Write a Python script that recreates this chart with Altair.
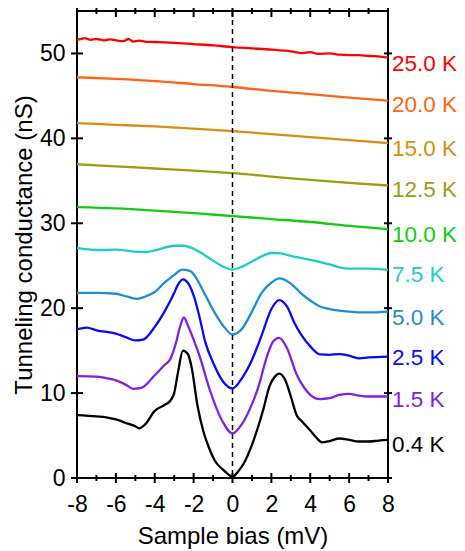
import altair as alt
import pandas as pd

# ---- data ----
temps = ["25.0 K", "20.0 K", "15.0 K", "12.5 K", "10.0 K", "7.5 K", "5.0 K", "2.5 K", "1.5 K", "0.4 K"]
colors = ["#FF0000", "#FF6414", "#D68F12", "#A09C10", "#12CC12", "#1ECCCC", "#1E8ED2", "#0A0AF5", "#8420E0", "#000000"]
label_y = [48.8, 43.9, 38.8, 33.9, 28.6, 23.9, 18.8, 14.1, 9.2, 3.9]

x_250 = [-8, -7.8, -7.6, -7.3, -7, -6.6, -6.3, -6, -5.6, -5.35, -5.1, -4.8, -4.5, -4, -3.5, -3, -2, -1, 0, 1, 2, 3, 3.6, 4, 4.4, 5, 5.5, 6, 6.5, 7, 7.5, 8]
g_250 = [51.6, 51.7, 51.8, 51.6, 51.7, 51.55, 51.65, 51.55, 51.45, 51.7, 51.4, 51.5, 51.4, 51.35, 51.3, 51.25, 51.1, 50.95, 50.75, 50.6, 50.45, 50.25, 50.05, 50.15, 49.95, 50.0, 49.85, 49.8, 49.8, 49.7, 49.65, 49.5]

x_200 = [-8, -6, -4, -2, 0, 2, 4, 6, 8]
g_200 = [47.2, 47.0, 46.75, 46.4, 46.05, 45.6, 45.2, 44.8, 44.45]

x_150 = [-8, -6, -4, -2, 0, 2, 4, 6, 8]
g_150 = [41.8, 41.6, 41.4, 41.15, 40.85, 40.5, 40.15, 39.8, 39.45]

x_125 = [-8, -6, -4, -2, 0, 2, 4, 6, 8]
g_125 = [36.95, 36.7, 36.45, 36.2, 35.9, 35.5, 35.1, 34.75, 34.45]

x_100 = [-8, -6, -4, -2, 0, 2, 4, 6, 8]
g_100 = [31.9, 31.75, 31.5, 31.2, 30.85, 30.5, 30.15, 29.7, 29.3]

x_75 = [-8, -7, -6, -5, -4.5, -4, -3, -2.5, -2, -1.5, -1, -0.5, 0, 0.5, 1, 1.5, 2, 2.5, 3, 4, 5, 5.5, 6, 7, 8]
g_75 = [27.1, 26.85, 26.9, 26.65, 26.6, 26.8, 27.35, 27.35, 27.0, 26.35, 25.6, 24.9, 24.55, 24.9, 25.5, 26.1, 26.5, 26.45, 26.15, 25.7, 25.15, 24.8, 24.65, 24.65, 24.5]

x_50 = [-8, -7, -6, -5.4, -4.9, -4.5, -4, -3.5, -3, -2.6, -2.2, -2, -1.5, -1, -0.5, 0, 0.5, 1, 1.5, 2, 2.4, 3, 3.5, 4, 4.5, 5, 6, 7, 8]
g_50 = [21.8, 21.8, 21.7, 21.35, 21.1, 21.35, 21.9, 23.0, 23.9, 24.55, 24.4, 24.0, 22.0, 19.8, 18.0, 16.9, 17.6, 19.6, 21.8, 23.0, 23.5, 22.9, 21.8, 20.9, 20.2, 19.9, 19.6, 19.5, 19.6]

x_25 = [-8, -7.5, -7, -6, -5.5, -5, -4.6, -4, -3.5, -3, -2.8, -2.55, -2.3, -2, -1.7, -1.4, -1, -0.5, 0, 0.5, 1, 1.5, 2, 2.4, 2.8, 3.2, 3.5, 4, 4.5, 5, 5.5, 6, 6.5, 7, 8]
g_25 = [17.5, 17.7, 17.4, 17.0, 16.6, 16.2, 16.3, 17.8, 19.6, 21.8, 22.8, 23.4, 23.0, 21.5, 19.0, 16.0, 13.6, 11.4, 10.55, 11.8, 13.9, 16.8, 19.9, 20.95, 20.2, 18.2, 17.0, 15.5, 14.55, 14.5, 14.6, 14.4, 14.1, 14.2, 14.3]

x_15 = [-8, -7, -6.5, -6, -5.5, -5.1, -4.7, -4, -3.5, -3.2, -2.9, -2.7, -2.5, -2.3, -2, -1.7, -1.2, -0.5, 0, 0.5, 1, 1.3, 1.8, 2.1, 2.4, 2.8, 3.3, 3.7, 4, 4.5, 5, 5.5, 6, 6.5, 7, 8]
g_15 = [12.0, 11.95, 11.75, 11.5, 11.0, 10.5, 10.6, 12.1, 13.3, 14.0, 16.0, 17.8, 18.9, 18.0, 16.3, 14.4, 10.6, 6.6, 5.25, 6.4, 8.7, 10.5, 14.5, 16.1, 16.5, 15.3, 12.2, 10.6, 9.8, 9.3, 9.4, 9.8, 9.9, 9.7, 9.6, 9.6]

x_04 = [-8, -7, -6.5, -6, -5.5, -5, -4.8, -4.5, -4, -3.5, -3.2, -3.0, -2.8, -2.55, -2.3, -2.1, -1.8, -1.5, -1.2, -0.9, -0.5, -0.2, 0, 0.3, 0.6, 1.0, 1.3, 1.6, 1.9, 2.2, 2.4, 2.7, 3.0, 3.3, 3.6, 4.0, 4.3, 4.6, 5.0, 5.5, 6, 6.5, 7, 7.5, 8]
g_04 = [7.4, 7.25, 7.15, 6.9, 6.5, 6.1, 5.85, 6.3, 7.9, 8.6, 9.1, 10.0, 12.5, 15.0, 14.6, 13.0, 8.5, 5.5, 3.5, 2.0, 1.0, 0.4, 0.15, 0.8, 1.8, 3.9, 5.9, 8.2, 10.8, 12.0, 12.3, 11.6, 9.6, 7.4, 6.6, 5.6, 4.8, 4.2, 4.35, 4.65, 4.5, 4.3, 4.3, 4.4, 4.5]

x_ticks = [-8, -6, -4, -2, 0, 2, 4, 6, 8]
x_minor = [-7, -5, -3, -1, 1, 3, 5, 7]
y_ticks = [0, 10, 20, 30, 40, 50]

series = [(x_250, g_250), (x_200, g_200), (x_150, g_150), (x_125, g_125), (x_100, g_100),
          (x_75, g_75), (x_50, g_50), (x_25, g_25), (x_15, g_15), (x_04, g_04)]

rows = []
for t, (xs, gs) in zip(temps, series):
    for xv, gv in zip(xs, gs):
        rows.append({"bias": xv, "G": gv, "T": t})
df = pd.DataFrame(rows)
labels_df = pd.DataFrame({"T": temps, "G": label_y, "bias": [8] * len(temps)})

FONT = "Liberation Sans"
W, H = 311, 467
xs_scale = alt.Scale(domain=[-8, 8], nice=False, zero=False)
ys_scale = alt.Scale(domain=[0, 55], nice=False, zero=False)
col_scale = alt.Scale(domain=temps, range=colors)

x_axis = alt.Axis(values=x_ticks, title="Sample bias (mV)", grid=False, domain=False,
                  ticks=False, tickSize=0, labelPadding=15, labelFontSize=23, labelFlush=False,
                  labelFont=FONT, labelColor="black", labelExpr="datum.value + ''",
                  titleFont=FONT, titleFontSize=24, titleFontWeight="normal",
                  titleColor="black", titlePadding=8)
y_axis = alt.Axis(values=y_ticks, title="Tunneling conductance (nS)", grid=False, domain=False,
                  ticks=False, tickSize=0, labelPadding=12, labelFontSize=23, labelFlush=False,
                  labelFont=FONT, labelColor="black", labelExpr="datum.value + ''",
                  titleFont=FONT, titleFontSize=24, titleFontWeight="normal",
                  titleColor="black", titlePadding=3)

X = lambda: alt.X("bias:Q", scale=xs_scale, axis=x_axis, title="Sample bias (mV)")
Y = lambda: alt.Y("G:Q", scale=ys_scale, axis=y_axis, title="Tunneling conductance (nS)")

lines = alt.Chart(df).mark_line(interpolate="monotone", strokeWidth=2.3, clip=True).encode(
    x=X(), y=Y(),
    color=alt.Color("T:N", scale=col_scale, legend=None),
    detail="T:N",
)

zero_line = alt.Chart(pd.DataFrame({"bias": [0]})).mark_rule(
    color="black", strokeWidth=1.5, strokeDash=[5, 4]
).encode(x=X())

texts = alt.Chart(labels_df).mark_text(
    align="left", baseline="middle", dx=4, fontSize=22.5, font=FONT, clip=False
).encode(
    x=X(), y=Y(),
    color=alt.Color("T:N", scale=col_scale, legend=None),
    text="T:N",
)

xt = pd.DataFrame({"bias": x_ticks})
xm = pd.DataFrame({"bias": x_minor})
yt = pd.DataFrame({"G": y_ticks})

def xrule(d, y1, y2):
    return alt.Chart(d).mark_rule(color="black", strokeWidth=2).encode(
        x=X(), y=alt.value(y1), y2=alt.value(y2))

def yrule(d, x1, x2):
    return alt.Chart(d).mark_rule(color="black", strokeWidth=2).encode(
        y=Y(), x=alt.value(x1), x2=alt.value(x2))

ticks = [
    xrule(xt, H - 5, H + 5), xrule(xm, H - 3, H + 3),
    xrule(xt, -6, 6), xrule(xm, -3, 3),
    yrule(yt, -6, 6), yrule(yt, W - 4, W + 4),
]

chart = alt.layer(lines, zero_line, texts, *ticks).properties(
    width=W, height=H,
    autosize=alt.AutoSizeParams(type="none"),
    padding={"left": 69, "top": 3, "right": 69, "bottom": 78},
).configure_view(stroke="black", strokeWidth=2).configure_axis(grid=False)

chart.save("out.html", embed_options={"renderer": "svg", "actions": False})
